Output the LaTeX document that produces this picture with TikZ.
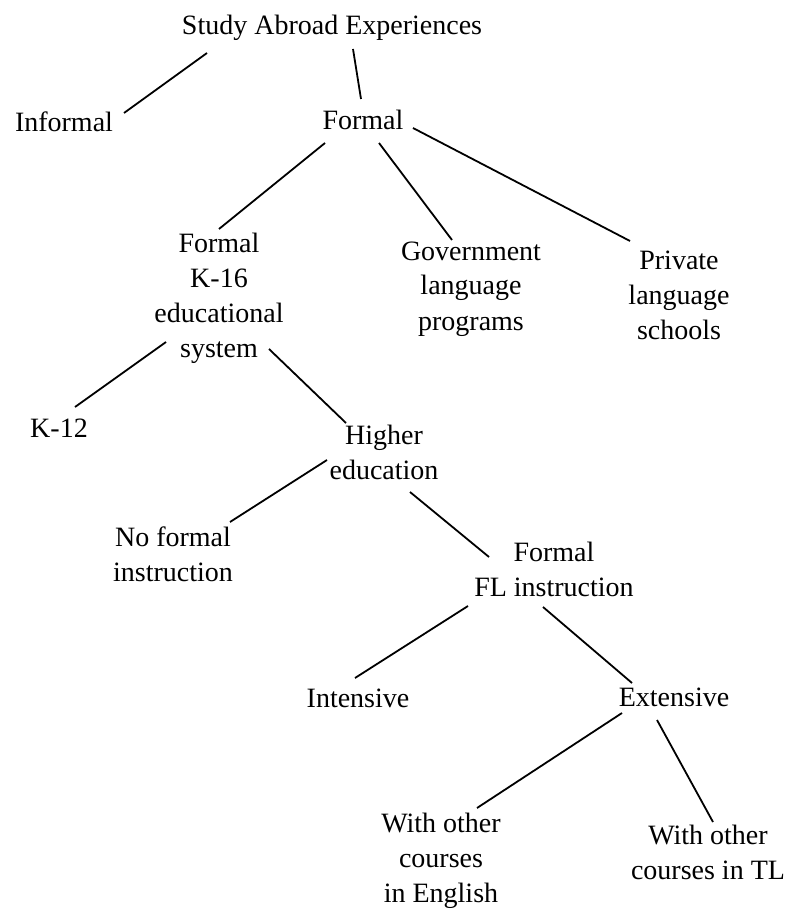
\documentclass[tikz,border=0pt]{standalone}
\usepackage{fontspec}
\setmainfont{Liberation Serif}
\tikzset{
    leaf/.style={
           inner sep=0pt,
           text centered,
           },
    branch/.style={
           -, line width=0.9pt,
           },
}

\begin{document}
\begin{tikzpicture}[x=0.5pt, y=-0.5pt, font=\fontsize{14}{17.5}\selectfont]
	\useasboundingbox (0,0) rectangle (787,909);

	\node[leaf] (study) at (332,28) {Study Abroad Experiences};
	\node[leaf] (informal) at (64,122) {Informal};
	\node[leaf] (formal) at (363,120) {Formal};

	\node[leaf] (k16) at (219,298) {
		\begin{tabular}{c}
		Formal\\ K-16\\ educational\\ system
		\end{tabular}
	};
	\node[leaf] (gov) at (471,288) {
		\begin{tabular}{c}
		Government\\ language\\ programs
		\end{tabular}
	};
	\node[leaf] (private) at (679,297) {
		\begin{tabular}{c}
		Private\\ language\\ schools
		\end{tabular}
	};

	\node[leaf] (k12) at (59,428) {K-12};
	\node[leaf] (higher) at (384,455) {
		\begin{tabular}{c}
		Higher\\ education
		\end{tabular}
	};
	\node[leaf] (noformal) at (173,557) {
		\begin{tabular}{c}
		No formal\\ instruction
		\end{tabular}
	};
	\node[leaf] (formalfl) at (554,572) {
		\begin{tabular}{c}
		Formal\\ FL instruction
		\end{tabular}
	};

	\node[leaf] (intensive) at (358,698) {Intensive};
	\node[leaf] (extensive) at (674,697) {Extensive};
	\node[leaf] (english) at (441,860) {
		\begin{tabular}{c}
		With other\\ courses\\ in English
		\end{tabular}
	};
	\node[leaf] (tl) at (708,855) {
		\begin{tabular}{c}
		With other\\ courses in TL
		\end{tabular}
	};

	% tree branches
	\path[branch]	([shift={(-125,25)}]study.center) edge ([shift={(60,-9)}]informal.center)
					([shift={(21,21)}]study.center) edge ([shift={(-2,-21)}]formal.center);
	\path[branch]	([shift={(-38,23)}]formal.center) edge ([shift={(0,-69)}]k16.center)
					([shift={(16,23)}]formal.center) edge ([shift={(-19,-48)}]gov.center)
					([shift={(50,8)}]formal.center) edge ([shift={(-49,-56)}]private.center);
	\path[branch]	([shift={(-53,44)}]k16.center) edge ([shift={(16,-21)}]k12.center)
					([shift={(50,51)}]k16.center) edge ([shift={(-38,-32)}]higher.center);
	\path[branch]	([shift={(-57,5)}]higher.center) edge ([shift={(57,-35)}]noformal.center)
					([shift={(26,37)}]higher.center) edge ([shift={(-65,-15)}]formalfl.center);
	\path[branch]	([shift={(-86,34)}]formalfl.center) edge ([shift={(-3,-20)}]intensive.center)
					([shift={(-11,35)}]formalfl.center) edge ([shift={(-42,-14)}]extensive.center);
	\path[branch]	([shift={(-52,16)}]extensive.center) edge ([shift={(36,-52)}]english.center)
					([shift={(-17,23)}]extensive.center) edge ([shift={(5,-33)}]tl.center);

\end{tikzpicture}
\end{document}
